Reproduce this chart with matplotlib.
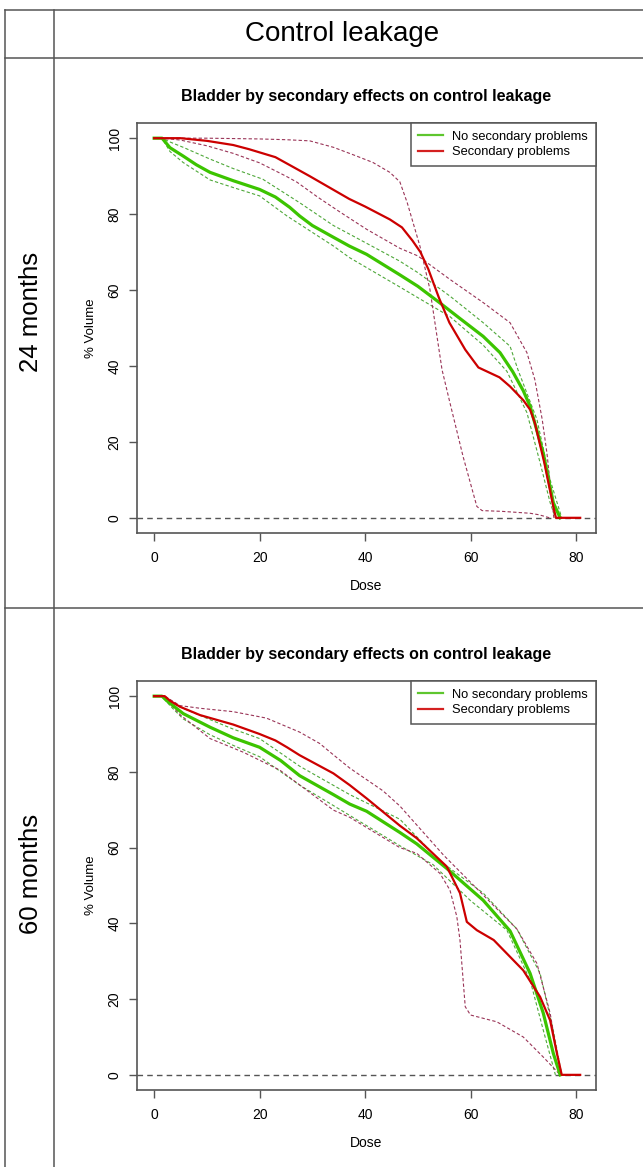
import matplotlib
matplotlib.use("Agg")
import matplotlib.pyplot as plt
from matplotlib.lines import Line2D

plt.rcParams['font.family'] = ['Liberation Sans', 'DejaVu Sans']

# ---- 24 months ----
dose_g24 = [0, 1.5, 3, 5.5, 8, 10.6, 15, 20, 23, 25.7, 27.6, 30, 34, 37, 40.3, 46.6, 50, 54.2, 58, 62.4, 65.6, 68, 70, 71.3, 73.8, 75.7, 77]
vol_g24 = [100, 100, 97.5, 95.3, 93, 91, 88.8, 86.5, 84.5, 81.8, 79.5, 77, 73.9, 71.6, 69.4, 64, 61, 56.6, 52.5, 47.8, 43.5, 38.5, 33.5, 29.4, 17, 4, 0]
dose_g24_hi = [0, 1.5, 3, 5.5, 10.6, 15, 20.6, 27.6, 34, 37.1, 46.6, 50, 56.1, 62.4, 67.5, 69, 72.6, 75.1, 77.3]
vol_g24_hi = [100, 100, 99, 97.6, 94.5, 92, 89.2, 83, 77, 74.7, 67.6, 64.6, 58.4, 51.4, 45.2, 39, 25.9, 10, 0]
dose_g24_lo = [0, 1.5, 3, 5.5, 10.6, 15, 20, 25.2, 34, 37.1, 46.6, 50, 56.1, 62.4, 66.9, 70.7, 73.2, 75.1, 76.1]
vol_g24_lo = [100, 100, 96.5, 93.6, 89, 87, 84.8, 79.5, 71.6, 68.5, 60.8, 58, 53, 45.5, 38.6, 27.7, 14.5, 4, 0]
dose_r24 = [0, 5, 10, 15, 18, 23, 26, 29.5, 33.5, 37, 40, 44.7, 47, 49, 50.5, 52, 54, 56, 59, 61.5, 63.5, 65.5, 67.5, 70, 71.3, 72.2, 74, 75.7, 76.2, 80.8]
vol_r24 = [100, 100, 99.3, 98.2, 97.1, 95, 92.7, 90, 86.8, 84, 82, 78.6, 76.5, 73, 70, 65.5, 58, 51.4, 44.3, 39.6, 38.3, 37, 34.6, 31, 28.5, 25, 14.5, 3, 0, 0]
dose_r24_a = [0, 5, 10, 20, 25, 29.5, 34, 38, 41.5, 44.7, 46.6, 48, 50.4, 52.3, 54.6, 56.1, 58.6, 61.2, 62.2, 66, 71.3, 73, 75]
vol_r24_a = [100, 100, 100, 99.8, 99.6, 99.3, 97.6, 95.5, 93.6, 91, 88.5, 83, 71.6, 60.2, 39, 30.3, 16.1, 3, 1.9, 1.7, 1.2, 0.8, 0]
dose_r24_b = [0, 3, 5, 10, 15, 20, 25, 27.1, 31, 35.3, 40.3, 46.6, 50, 56.1, 62.4, 67.5, 70.7, 72.2, 73.6, 74.5, 75.5, 75.8]
vol_r24_b = [100, 99.8, 99.5, 98, 96, 93.5, 90, 88.4, 84.5, 80.5, 76, 71, 69, 62.8, 56.7, 51.4, 43.5, 36.4, 25.9, 17, 4, 0]

# ---- 60 months ----
dose_g60 = [0, 1.5, 2.4, 5.5, 10.6, 15, 20, 24, 27.6, 34, 37.1, 40.3, 46.6, 49.8, 55.5, 62.4, 67.5, 71.3, 73.8, 75.7, 77]
vol_g60 = [100, 100, 98.8, 95.4, 91.8, 89, 86.5, 83, 79, 74, 71.5, 69.6, 64, 61, 54.5, 46.1, 38, 26.8, 16.3, 5.7, 0]
dose_g60_hi = [0, 1.5, 3, 5.5, 10.6, 15, 20, 27.6, 37.1, 46.6, 54.2, 62.4, 68.8, 73.2, 75.7, 77.3]
vol_g60_hi = [100, 100, 98.5, 96.8, 93.8, 91.3, 88.8, 81.5, 74, 67.5, 56.5, 48, 38.5, 26.8, 11.8, 0]
dose_g60_lo = [0, 1.5, 3, 5.5, 10.6, 15, 20, 27.6, 37.1, 46.6, 52.9, 60, 66.9, 71.3, 73.8, 76.1]
vol_g60_lo = [100, 100, 97.5, 94, 89.8, 87, 84, 76.5, 68.5, 60.5, 55.5, 46, 38.2, 25, 11.8, 0]
dose_r60 = [0, 2, 3, 4.9, 8.7, 15, 20, 23, 25.2, 27.6, 34, 37.1, 40.3, 46.6, 49.8, 55.5, 58, 59.3, 61.2, 64.4, 70, 73.2, 75.1, 76.4, 77.3, 80.8]
vol_r60 = [100, 100, 98.8, 97.2, 95, 92.5, 90, 88.3, 86.5, 84.4, 79.6, 76.5, 73, 65.8, 62.5, 55, 48, 40.4, 38.2, 35.6, 27.6, 20.6, 14.4, 5.6, 0, 0]
dose_r60_a = [0, 2, 4.9, 8.7, 15, 21.3, 27.6, 31.4, 34, 37.1, 43.4, 46.6, 54.9, 62.4, 68.8, 72.6, 75.1, 76.4, 77.3]
vol_r60_a = [100, 100, 97.5, 96.8, 95.9, 94.2, 90.5, 87.5, 84.5, 81, 75, 71, 58, 47.5, 38.5, 29.4, 16.3, 5.7, 0]
dose_r60_b = [0, 2, 3, 5, 10.6, 16.9, 23.8, 34, 37.1, 46.6, 49.8, 54.2, 56.1, 57.4, 58, 59, 60, 65, 70, 73.8, 77]
vol_r60_b = [100, 100, 98, 95, 88.8, 85.2, 80.5, 69.9, 68, 60, 58.5, 53.2, 48.8, 41.8, 35.6, 18, 15.8, 14, 10, 4.7, 0]

x_ticks = [0, 20, 40, 60, 80]
y_ticks = [0, 20, 40, 60, 80, 100]
legend_labels = ["No secondary problems", "Secondary problems"]
plot_title = "Bladder by secondary effects on control leakage"
row_labels = ["24 months", "60 months"]
col_label = "Control leakage"

GREEN = '#3cc400'
GREEN_D = '#4fa83a'
RED = '#cc0000'
RED_D = '#9a3558'
GRAY = '#555555'

W, H = 643, 1167
fig = plt.figure(figsize=(W / 100, H / 100), dpi=100)

# table frame
bg = fig.add_axes([0, 0, 1, 1], zorder=-1)
bg.set_xlim(0, W)
bg.set_ylim(H, 0)
bg.axis('off')
for y in [10, 58, 608]:
    bg.plot([5, W], [y, y], color=GRAY, lw=1.1)
for x in [5, 54]:
    bg.plot([x, x], [10, H], color=GRAY, lw=1.1)
bg.text(342, 34, col_label, fontsize=20, ha='center', va='center')
bg.text(31, 312, row_labels[0], fontsize=18.5, rotation=90, ha='center', va='center')
bg.text(31, 874, row_labels[1], fontsize=18.5, rotation=90, ha='center', va='center')


def panel(rect, g, g_hi, g_lo, r, r_a, r_b):
    ax = fig.add_axes(rect)
    ax.axhline(0, color=GRAY, lw=1, ls=(0, (4, 3)), zorder=1)
    dash = (0, (3, 2))
    ax.plot(*g_hi, color=GREEN_D, lw=0.8, ls=dash)
    ax.plot(*g_lo, color=GREEN_D, lw=0.8, ls=dash)
    ax.plot(*r_a, color=RED_D, lw=0.8, ls=dash)
    ax.plot(*r_b, color=RED_D, lw=0.8, ls=dash)
    ax.plot(*g, color=GREEN, lw=2.3)
    ax.plot(*r, color=RED, lw=1.6)
    ax.set_xlim(-3.25, 83.8)
    ax.set_ylim(-4, 104)
    ax.set_xticks(x_ticks)
    ax.set_yticks(y_ticks)
    ax.set_yticklabels([str(v) for v in y_ticks], rotation=90, va='center')
    for s in ax.spines.values():
        s.set_color(GRAY)
        s.set_linewidth(1.2)
    ax.tick_params(direction='out', length=6, width=1, color=GRAY, labelsize=10)
    ax.tick_params(axis='x', pad=7)
    ax.tick_params(axis='y', pad=5)
    ax.set_xlabel("Dose", fontsize=10, labelpad=10)
    ax.set_ylabel("% Volume", fontsize=9.5, labelpad=8)
    ax.set_title(plot_title, fontsize=11.5, fontweight='bold', pad=16)
    handles = [Line2D([], [], color='#5ec62e', lw=1.6),
               Line2D([], [], color='#d42020', lw=1.6)]
    leg = ax.legend(handles, legend_labels, loc='upper right', fontsize=9.3,
                    borderaxespad=0, fancybox=False, framealpha=1,
                    edgecolor=GRAY, handlelength=1.9, handletextpad=0.75,
                    labelspacing=0.25, borderpad=0.6)
    leg.get_frame().set_linewidth(1.1)
    return ax


left = 137 / W
width = (596 - 137) / W
panel([left, (H - 533) / H, width, 410 / H],
      (dose_g24, vol_g24), (dose_g24_hi, vol_g24_hi), (dose_g24_lo, vol_g24_lo),
      (dose_r24, vol_r24), (dose_r24_a, vol_r24_a), (dose_r24_b, vol_r24_b))
panel([left, (H - 1090) / H, width, 409 / H],
      (dose_g60, vol_g60), (dose_g60_hi, vol_g60_hi), (dose_g60_lo, vol_g60_lo),
      (dose_r60, vol_r60), (dose_r60_a, vol_r60_a), (dose_r60_b, vol_r60_b))

fig.savefig("out.png", dpi=100)
